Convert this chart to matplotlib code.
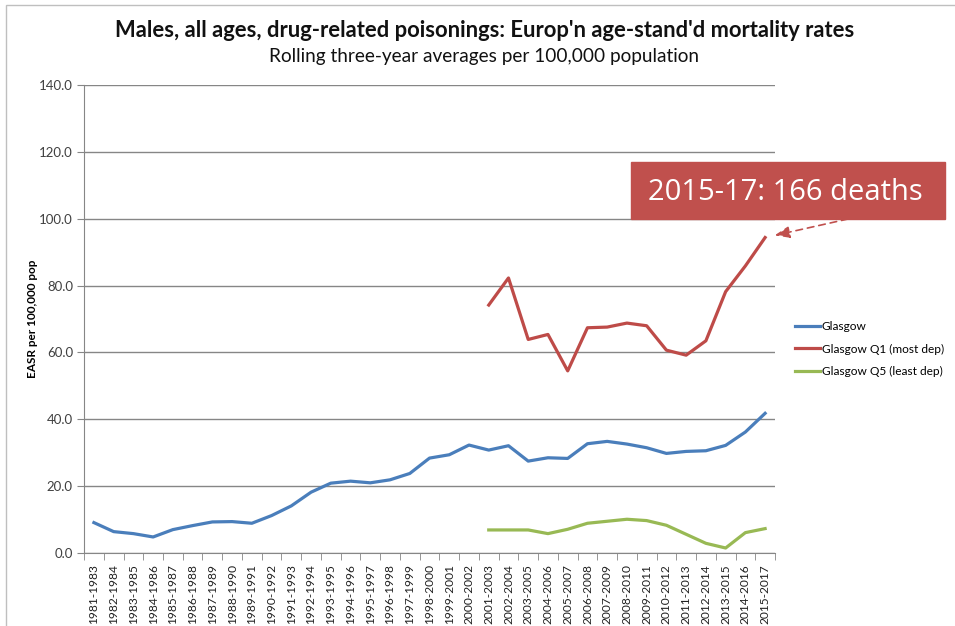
import matplotlib.pyplot as plt
from matplotlib.patches import Rectangle

plt.rcParams['font.family'] = ['Lato', 'DejaVu Sans']

periods = [f"{y}-{y + 2}" for y in range(1981, 2016)]

glasgow = [9.1, 6.4, 5.8, 4.8, 7.0, 8.2, 9.3, 9.4, 8.9, 11.2,
           14.1, 18.2, 20.9, 21.5, 21.0, 21.9, 23.8, 28.4, 29.4, 32.3,
           30.8, 32.1, 27.5, 28.5, 28.3, 32.7, 33.4, 32.6, 31.5, 29.8,
           30.4, 30.6, 32.2, 36.2, 41.8]

# Q1 and Q5 only start in 2001-2003
q1 = [74.2, 82.3, 63.9, 65.4, 54.5, 67.4, 67.6, 68.8, 68.0, 60.7,
      59.2, 63.5, 78.2, 85.9, 94.4]
q5 = [6.9, 6.9, 6.9, 5.8, 7.1, 8.9, 9.5, 10.1, 9.7, 8.3,
      5.6, 2.9, 1.5, 6.1, 7.3]

x_all = list(range(len(periods)))
x_q = x_all[len(periods) - len(q1):]

fig = plt.figure(figsize=(9.55, 6.26), dpi=100)
ax = fig.add_axes([0.088, 0.1166, 0.7235, 0.7474])

grey = '#868686'
ax.plot(x_all, glasgow, color='#4A7EBB', lw=2.3, label='Glasgow')
ax.plot(x_q, q1, color='#BE4B48', lw=2.3, label='Glasgow Q1 (most dep)')
ax.plot(x_q, q5, color='#98B954', lw=2.3, label='Glasgow Q5 (least dep)')

ax.set_ylim(0, 140)
ax.set_yticks(range(0, 141, 20))
ax.set_yticklabels([f"{v:.1f}" for v in range(0, 141, 20)], fontsize=9.5, color='#404040')
ax.set_xlim(-0.5, len(periods) - 0.5)
ax.set_xticks(x_all)
ax.set_xticklabels(periods, rotation=90, fontsize=8.6, color='#202020')
ax.set_xticks([i - 0.5 for i in range(len(periods) + 1)], minor=True)
ax.tick_params(axis='x', which='major', length=0, pad=8)
ax.tick_params(axis='x', which='minor', length=5, color=grey)
ax.tick_params(axis='y', length=5, color=grey, pad=3)
ax.grid(axis='y', color=grey, lw=1)
ax.set_axisbelow(True)
for s in ['top', 'right']:
    ax.spines[s].set_visible(False)
for s in ['left', 'bottom']:
    ax.spines[s].set_color(grey)
ax.set_ylabel('EASR per 100,000 pop', fontsize=8.5, fontweight='bold')
ax.yaxis.set_label_coords(-0.067, 0.5)

ax.legend(loc='center left', bbox_to_anchor=(1.029, 0.436), frameon=False,
          borderaxespad=0, borderpad=0, fontsize=8.6, handlelength=2.1,
          handletextpad=0.15, labelspacing=0.95)

fig.text(0.507, 0.952, "Males, all ages, drug-related poisonings: Europ'n age-stand'd mortality rates",
         ha='center', va='center', fontsize=15.8, fontweight='bold', color='#111111')
fig.text(0.507, 0.909, 'Rolling three-year averages per 100,000 population',
         ha='center', va='center', fontsize=13.7, color='#111111')

# callout box for the latest Q1 figure
box_col = '#C0504D'
fig.patches.append(Rectangle((631 / 955, 1 - 219 / 626), 314 / 955, 57 / 626,
                             transform=fig.transFigure, color=box_col, zorder=5))
fig.text(785 / 955, 1 - 192 / 626, '2015-17: 166 deaths', ha='center', va='center',
         fontsize=21, color='white', family='Open Sans', zorder=6)
ax.annotate('', xy=(x_q[-1], q1[-1]), xytext=(848 / 955, 1 - 219 / 626),
            textcoords='figure fraction',
            arrowprops=dict(arrowstyle='-|>,head_length=0.9,head_width=0.35', color=box_col,
                            linestyle=(0, (4, 3)), lw=1.2, shrinkA=0, shrinkB=7))

# outer frame
fig.patches.append(Rectangle((6 / 955, -0.01), 1.0, 1 - 5 / 626 + 0.01,
                             transform=fig.transFigure, fill=False, ec='#BFBFBF', lw=1))

fig.savefig('out.png', dpi=100)
